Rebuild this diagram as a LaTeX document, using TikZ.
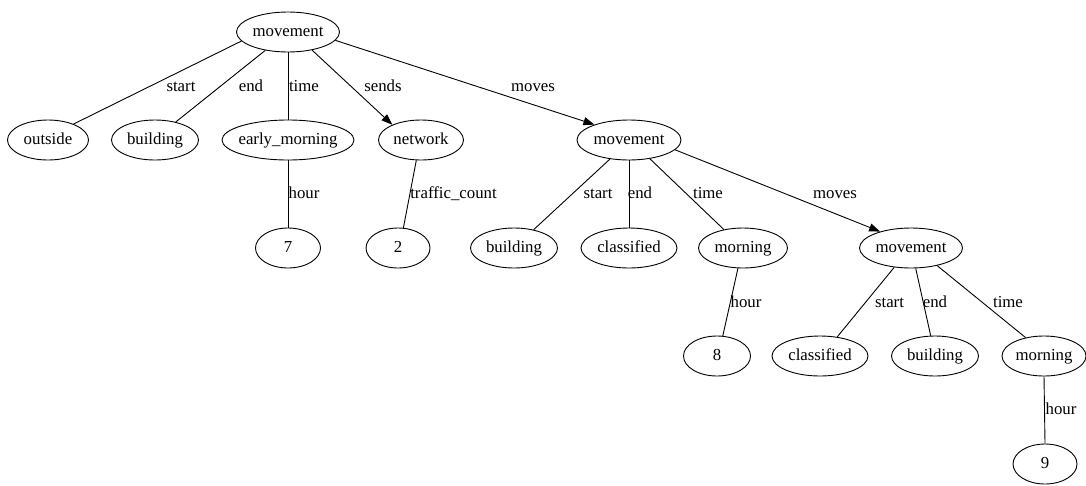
\documentclass[tikz,border=0pt]{standalone}
\usepackage{fontspec}
\setmainfont{Liberation Serif}
\usetikzlibrary{shapes.geometric,arrows.meta}
\newcommand\gvt[1]{\makebox[0pt]{#1}}
\begin{document}
\begin{tikzpicture}[x=1pt,y=-1pt,
  every node/.style={font=\fontsize{16.8}{20}\selectfont},
  gv/.style={draw, ellipse, line width=0.9pt, inner sep=0pt, minimum height=40pt, text height=11.5pt, text depth=3.5pt},
  lbl/.style={inner sep=0pt, text height=11.5pt, text depth=3.5pt},
  edge/.style={line width=0.9pt},
  arr/.style={edge, -{Triangle[length=11pt,width=8pt]}}]
\useasboundingbox (0,0) rectangle (1086,485);
% nodes
\node[gv,minimum width=103pt] (root) at (288,32) {\gvt{movement}};
\node[gv,minimum width=81pt] (outside) at (48,140) {\gvt{outside}};
\node[gv,minimum width=87pt] (bldA) at (155,140) {\gvt{building}};
\node[gv,minimum width=132pt] (early) at (288,140) {\gvt{early\_morning}};
\node[gv,minimum width=85pt] (network) at (421,140) {\gvt{network}};
\node[gv,minimum width=104pt] (mvB) at (629,140) {\gvt{movement}};
\node[gv,minimum width=65pt] (seven) at (288,248) {\gvt{7}};
\node[gv,minimum width=64pt] (two) at (398,248) {\gvt{2}};
\node[gv,minimum width=87pt] (bldB) at (514,248) {\gvt{building}};
\node[gv,minimum width=96pt] (clsB) at (629,248) {\gvt{classified}};
\node[gv,minimum width=89pt] (mornB) at (743,248) {\gvt{morning}};
\node[gv,minimum width=103pt] (mvC) at (911,248) {\gvt{movement}};
\node[gv,minimum width=67pt] (eight) at (717,356) {\gvt{8}};
\node[gv,minimum width=96pt] (clsC) at (820,356) {\gvt{classified}};
\node[gv,minimum width=87pt] (bldC) at (935,356) {\gvt{building}};
\node[gv,minimum width=84pt] (mornC) at (1044,356) {\gvt{morning}};
\node[gv,minimum width=64pt] (nine) at (1045,464) {\gvt{9}};
% edges
\draw[edge] (root.191) -- (outside.32);
\draw[edge] (root.219) -- (bldA.41);
\draw[edge] (root.south) -- (early.north);
\draw[arr] (root.323) -- (network.152);
\draw[arr] (root.350) -- (mvB.156);
\draw[edge] (early.south) -- (seven.north);
\draw[edge] (network.257) -- (two.75);
\draw[edge] (mvB.225) -- (bldB.43);
\draw[edge] (mvB.south) -- (clsB.north);
\draw[edge] (mvB.318) -- (mornB.136);
\draw[arr] (mvB.348) -- (mvC.152);
\draw[edge] (mornB.256) -- (eight.74);
\draw[edge] (mvC.229) -- (clsC.48);
\draw[edge] (mvC.283) -- (bldC.102);
\draw[edge] (mvC.326) -- (mornC.135);
\draw[edge] (mornC.south) -- (nine.north);
% edge labels
\node[lbl] (l1) at (181,87) {start};
\node[lbl] (l2) at (251,87) {end};
\node[lbl] (l3) at (304,87) {time};
\node[lbl] (l4) at (383,87) {sends};
\node[lbl] (l5) at (533,87) {moves};
\node[lbl] (l6) at (304,194) {hour};
\node[lbl] (l7) at (453.5,194) {traffic\_count};
\node[lbl] (l8) at (598,194) {start};
\node[lbl] (l9) at (640,194) {end};
\node[lbl] (l10) at (708,194) {time};
\node[lbl] (l11) at (835,194) {moves};
\node[lbl] (l12) at (746,303) {hour};
\node[lbl] (l13) at (889.5,303) {start};
\node[lbl] (l14) at (935,303) {end};
\node[lbl] (l15) at (1008,303) {time};
\node[lbl] (l16) at (1061,410) {hour};
\end{tikzpicture}
\end{document}
